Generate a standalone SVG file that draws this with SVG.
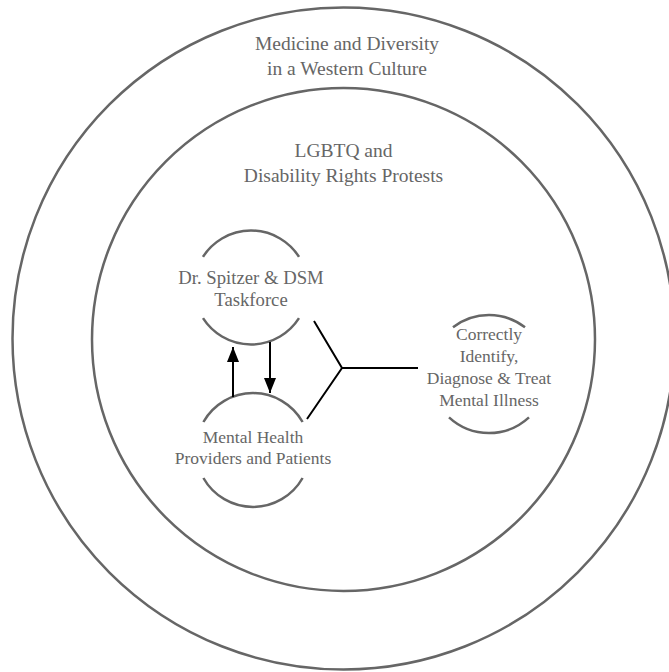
<svg xmlns="http://www.w3.org/2000/svg" width="669" height="672" viewBox="0 0 669 672">
<style>
.ring{fill:none;stroke:#666;stroke-width:2.5}
.arc{fill:none;stroke:#666;stroke-width:2.5}
.t{font-family:"Liberation Serif","Times New Roman",serif;fill:#666;text-anchor:middle}
.h{font-size:19.5px}
.n{font-size:17.5px}
.n1{font-size:18.7px}
.c{fill:none;stroke:#000;stroke-width:2}
</style>
<defs>
<marker id="ah" markerUnits="userSpaceOnUse" markerWidth="15" markerHeight="12" refX="15" refY="6" orient="auto">
<path d="M0,0 L15,6 L0,12 z" fill="#000"/>
</marker>
</defs>
<rect width="669" height="672" fill="#fff"/>
<g id="outer">
<circle class="ring" cx="343.5" cy="338.5" r="331"/>
<text class="t h" x="347" y="50">Medicine and Diversity</text>
<text class="t h" x="347" y="75">in a Western Culture</text>
</g>
<g id="inner">
<circle class="ring" cx="343.5" cy="339.5" r="251.5"/>
<text class="t h" x="343.5" y="157">LGBTQ and</text>
<text class="t h" x="343.5" y="182">Disability Rights Protests</text>
</g>
<g id="spitzer">
<path class="arc" d="M203,256.8 A57,57 0 0 1 299,256.8"/>
<path class="arc" d="M299,318.2 A57,57 0 0 1 203,318.2"/>
<text class="t n1" x="251" y="284">Dr. Spitzer &amp; DSM</text>
<text class="t n1" x="251" y="306">Taskforce</text>
</g>
<g id="providers">
<path class="arc" d="M203.4,422 A57,57 0 0 1 302.6,422"/>
<path class="arc" d="M302.6,478 A57,57 0 0 1 203.4,478"/>
<text class="t n" x="253" y="443">Mental Health</text>
<text class="t n" x="253" y="464">Providers and Patients</text>
</g>
<g id="outcome">
<path class="arc" d="M453,327.3 A59,59 0 0 1 525,327.3"/>
<path class="arc" d="M529,417.4 A59,59 0 0 1 449,417.4"/>
<text class="t n" x="489" y="340">Correctly</text>
<text class="t n" x="489" y="362">Identify,</text>
<text class="t n" x="489" y="384">Diagnose &amp; Treat</text>
<text class="t n" x="489" y="406">Mental Illness</text>
</g>
<g id="connectors">
<line class="c" x1="233" y1="397" x2="233" y2="347" marker-end="url(#ah)"/>
<line class="c" x1="270" y1="342" x2="270" y2="393" marker-end="url(#ah)"/>
<polyline class="c" points="314,321 342,368 307,419"/>
<line class="c" x1="342" y1="368" x2="418" y2="368"/>
</g>
</svg>
